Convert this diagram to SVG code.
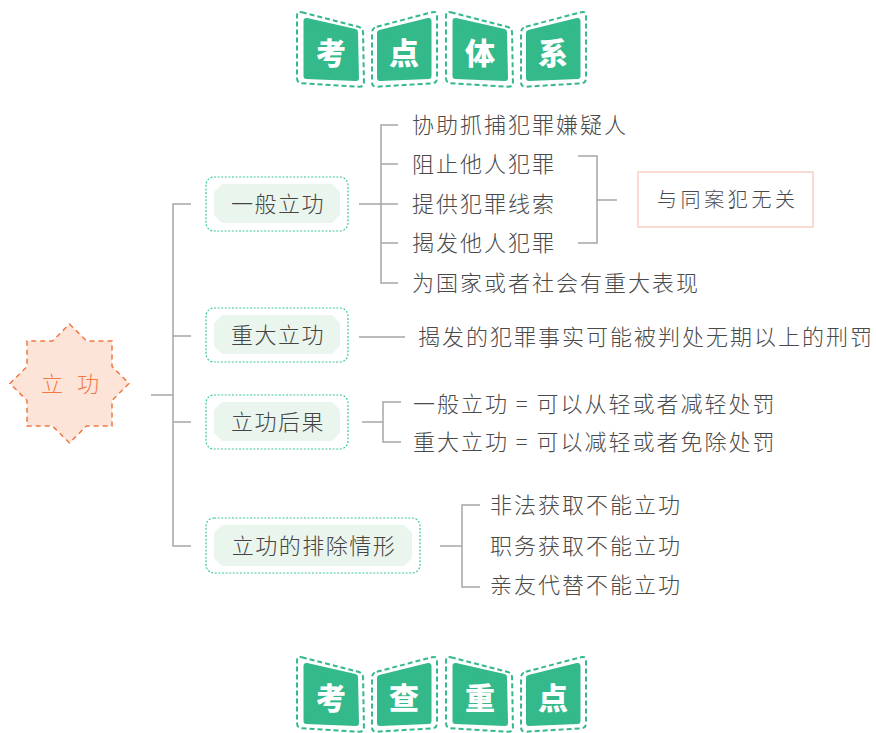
<svg xmlns="http://www.w3.org/2000/svg" xmlns:xlink="http://www.w3.org/1999/xlink" width="876" height="733" viewBox="0 0 876 733">
<defs>
<style>
.bfill{fill:#33b98a;stroke:#33b98a;stroke-width:6;stroke-linejoin:round}
.bdash{fill:none;stroke:#33b98a;stroke-width:2;stroke-dasharray:5 3}
.btxt{font-family:"Noto Sans CJK SC","Noto Sans",sans-serif;font-weight:900;font-size:30px;fill:#ffffff;text-anchor:middle;dominant-baseline:central}
.nbox{fill:#ffffff;stroke:#3cc896;stroke-width:1.2;stroke-dasharray:2 1.6}
.ninner{fill:#eaf5ee}
.ntxt{font-family:"Noto Sans CJK SC","Noto Sans",sans-serif;font-weight:300;font-size:22px;fill:#444444;text-anchor:middle;dominant-baseline:central;letter-spacing:1.5px}
.leaf{font-family:"Noto Sans CJK SC","Noto Sans",sans-serif;font-weight:300;font-size:22px;fill:#4a4a4a;dominant-baseline:central;letter-spacing:2px}
.conn{fill:none;stroke:#a6a6a6;stroke-width:1.5}
</style>
<path id="bA-out" d="M301.8,12.2 L358.2,26.8 Q363,28 363.1,33 L363.9,82 Q364,87 359,86.7 L302,83.3 Q297,83 297,78 L297,16 Q297,11 301.8,12.2 Z"/>
<polygon id="bA-in" points="306.5,21 355,32 356,78 306.5,76"/>
<path id="bB-out" d="M376.8,26.7 L432.2,12.2 Q437,11 437,16 L437,78 Q437,83 432,83.3 L377,86.7 Q372,87 372,82 L372,33 Q372,28 376.8,26.7 Z"/>
<polygon id="bB-in" points="380,33 428.5,21 428.5,76 380,78"/>
</defs>
<rect width="876" height="733" fill="#ffffff"/>

<g id="title-top">
  <g id="badge-kao1"><use xlink:href="#bA-out" class="bdash"/><use xlink:href="#bA-in" class="bfill"/><text class="btxt" x="331" y="51">考</text></g>
  <g id="badge-dian1"><use xlink:href="#bB-out" class="bdash"/><use xlink:href="#bB-in" class="bfill"/><text class="btxt" x="404" y="51">点</text></g>
  <g id="badge-ti" transform="translate(149,0)"><use xlink:href="#bA-out" class="bdash"/><use xlink:href="#bA-in" class="bfill"/><text class="btxt" x="331" y="51">体</text></g>
  <g id="badge-xi" transform="translate(149,0)"><use xlink:href="#bB-out" class="bdash"/><use xlink:href="#bB-in" class="bfill"/><text class="btxt" x="404" y="51">系</text></g>
</g>

<g id="title-bottom" transform="translate(0,645)">
  <g id="badge-kao2"><use xlink:href="#bA-out" class="bdash"/><use xlink:href="#bA-in" class="bfill"/><text class="btxt" x="331" y="51">考</text></g>
  <g id="badge-cha"><use xlink:href="#bB-out" class="bdash"/><use xlink:href="#bB-in" class="bfill"/><text class="btxt" x="404" y="51">查</text></g>
  <g id="badge-zhong" transform="translate(149,0)"><use xlink:href="#bA-out" class="bdash"/><use xlink:href="#bA-in" class="bfill"/><text class="btxt" x="331" y="51">重</text></g>
  <g id="badge-dian2" transform="translate(149,0)"><use xlink:href="#bB-out" class="bdash"/><use xlink:href="#bB-in" class="bfill"/><text class="btxt" x="404" y="51">点</text></g>
</g>

<g id="connectors">
  <path class="conn" d="M151,395 H173"/>
  <path class="conn" d="M191,204 H173 V546 H191"/>
  <path class="conn" d="M173,336 H191"/>
  <path class="conn" d="M173,422 H191"/>
  <path class="conn" d="M359,204 H398"/>
  <path class="conn" d="M398,125 H381 V283 H398"/>
  <path class="conn" d="M381,164 H398"/>
  <path class="conn" d="M381,243 H398"/>
  <path class="conn" d="M578,156 H597 V243 H578"/>
  <path class="conn" d="M597,200 H617"/>
  <path class="conn" d="M359,337 H405"/>
  <path class="conn" d="M362,422 H383"/>
  <path class="conn" d="M401,402 H383 V442 H401"/>
  <path class="conn" d="M440,546 H462"/>
  <path class="conn" d="M480,505 H462 V587 H480"/>
</g>

<g id="root">
  <path d="M69.5,324 L86.5,341 L112,341 L112,366.5 L129,383.5 L112,400.5 L112,426 L86.5,426 L69.5,443 L52.5,426 L27,426 L27,400.5 L10,383.5 L27,366.5 L27,341 L52.5,341 Z" fill="#fde4d8" stroke="#f07844" stroke-width="1.5" stroke-dasharray="5 4"/>
  <text x="41" y="382" font-family="Noto Sans CJK SC, Noto Sans, sans-serif" font-weight="300" font-size="22" fill="#f07a45" dominant-baseline="central" letter-spacing="14">立功</text>
</g>

<g id="node-yiban">
  <rect class="nbox" x="206" y="177" width="142" height="54" rx="8"/>
  <polygon class="ninner" points="222,184 332,184 340,192 340,215 332,223 222,223 214,215 214,192"/>
  <text class="ntxt" x="278" y="202">一般立功</text>
</g>
<g id="node-zhongda">
  <rect class="nbox" x="206" y="308" width="142" height="54" rx="8"/>
  <polygon class="ninner" points="222,315 332,315 340,323 340,346 332,354 222,354 214,346 214,323"/>
  <text class="ntxt" x="278" y="333">重大立功</text>
</g>
<g id="node-houguo">
  <rect class="nbox" x="206" y="395" width="142" height="54" rx="8"/>
  <polygon class="ninner" points="222,402 332,402 340,410 340,433 332,441 222,441 214,433 214,410"/>
  <text class="ntxt" x="278" y="420">立功后果</text>
</g>
<g id="node-paichu">
  <rect class="nbox" x="206" y="518" width="214" height="55" rx="8"/>
  <polygon class="ninner" points="222,525 404,525 412,533 412,558 404,566 222,566 214,558 214,533"/>
  <text class="ntxt" x="314" y="544">立功的排除情形</text>
</g>

<g id="leaf-1"><text class="leaf" x="412" y="123">协助抓捕犯罪嫌疑人</text></g>
<g id="leaf-2"><text class="leaf" x="412" y="162">阻止他人犯罪</text></g>
<g id="leaf-3"><text class="leaf" x="412" y="202">提供犯罪线索</text></g>
<g id="leaf-4"><text class="leaf" x="412" y="241">揭发他人犯罪</text></g>
<g id="leaf-5"><text class="leaf" x="412" y="281">为国家或者社会有重大表现</text></g>

<g id="note-wuguan">
  <rect x="638" y="172" width="175" height="55" fill="#ffffff" stroke="#f9cfc6" stroke-width="1.5"/>
  <text x="657" y="198" font-family="Noto Sans CJK SC, Noto Sans, sans-serif" font-weight="300" font-size="20" fill="#4a4a4a" dominant-baseline="central" letter-spacing="3.6">与同案犯无关</text>
</g>

<g id="leaf-6"><text class="leaf" x="418" y="335">揭发的犯罪事实可能被判处无期以上的刑罚</text></g>
<g id="leaf-7"><text class="leaf" x="413" y="402">一般立功 = 可以从轻或者减轻处罚</text></g>
<g id="leaf-8"><text class="leaf" x="413" y="440">重大立功 = 可以减轻或者免除处罚</text></g>
<g id="leaf-9"><text class="leaf" x="490" y="503">非法获取不能立功</text></g>
<g id="leaf-10"><text class="leaf" x="490" y="544">职务获取不能立功</text></g>
<g id="leaf-11"><text class="leaf" x="490" y="583">亲友代替不能立功</text></g>
</svg>
